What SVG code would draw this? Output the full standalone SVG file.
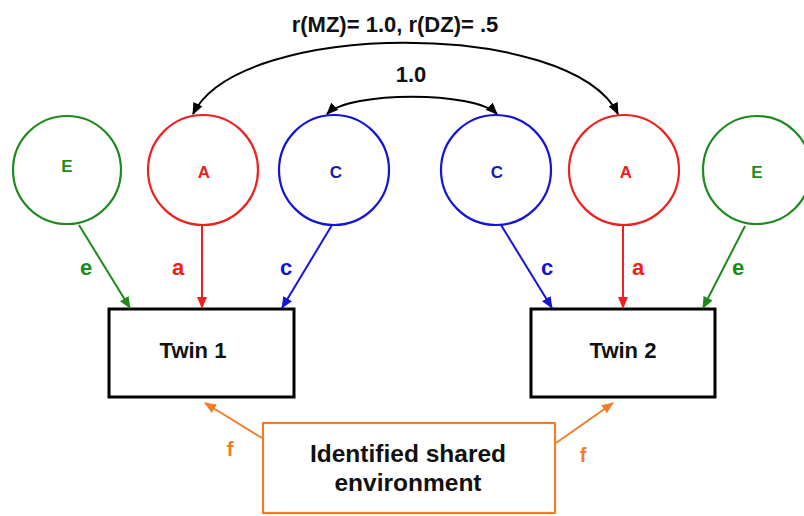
<svg xmlns="http://www.w3.org/2000/svg" width="804" height="516" viewBox="0 0 804 516">
  <style>
    text { font-family: "Liberation Sans", Arial, sans-serif; font-weight: bold; text-anchor: middle; }
    .circ { fill: #fff; stroke-width: 2.2; }
    .g { stroke: #1E8A1E; }
    .r { stroke: #F02020; }
    .b { stroke: #1414D8; }
    .tg { fill: #1E8A1E; }
    .tr { fill: #F02020; }
    .tb { fill: #1A1AA8; }
    .lb { fill: #1414D8; }
    .box { fill: #fff; stroke: #000; stroke-width: 3; }
    .obox { fill: #fff; stroke: #F07D2A; stroke-width: 2.2; }
    .path { fill: none; stroke-width: 2; }
    .big { font-size: 22px; fill: #111; }
    .lat { font-size: 17px; }
    .lab { font-size: 22px; }
    .lf { font-size: 20px; fill: #F07D2A; }
  </style>
  <defs>
    <marker id="ahK" viewBox="0 0 12 10" refX="11" refY="5" markerWidth="12" markerHeight="10" markerUnits="userSpaceOnUse" orient="auto-start-reverse">
      <path d="M0,0 L12,5 L0,10 z" fill="#000"/>
    </marker>
    <marker id="ahG" viewBox="0 0 12 10" refX="11" refY="5" markerWidth="12" markerHeight="10" markerUnits="userSpaceOnUse" orient="auto">
      <path d="M0,0 L12,5 L0,10 z" fill="#1E8A1E"/>
    </marker>
    <marker id="ahR" viewBox="0 0 12 10" refX="11" refY="5" markerWidth="12" markerHeight="10" markerUnits="userSpaceOnUse" orient="auto">
      <path d="M0,0 L12,5 L0,10 z" fill="#F02020"/>
    </marker>
    <marker id="ahB" viewBox="0 0 12 10" refX="11" refY="5" markerWidth="12" markerHeight="10" markerUnits="userSpaceOnUse" orient="auto">
      <path d="M0,0 L12,5 L0,10 z" fill="#1414D8"/>
    </marker>
    <marker id="ahO" viewBox="0 0 12 10" refX="11" refY="5" markerWidth="12" markerHeight="10" markerUnits="userSpaceOnUse" orient="auto">
      <path d="M0,0 L12,5 L0,10 z" fill="#F07D2A"/>
    </marker>
  </defs>

  <!-- latent factors, twin 1 -->
  <g id="E1"><circle class="circ g" cx="67" cy="170" r="54"/><text class="lat tg" x="67" y="172">E</text></g>
  <g id="A1"><circle class="circ r" cx="203" cy="170" r="55"/><text class="lat tr" x="204" y="178">A</text></g>
  <g id="C1"><circle class="circ b" cx="334" cy="170" r="55"/><text class="lat tb" x="336" y="178">C</text></g>
  <!-- latent factors, twin 2 -->
  <g id="C2"><circle class="circ b" cx="496" cy="170" r="55"/><text class="lat tb" x="497" y="178">C</text></g>
  <g id="A2"><circle class="circ r" cx="624" cy="170" r="55"/><text class="lat tr" x="626" y="178">A</text></g>
  <g id="E2"><circle class="circ g" cx="757" cy="170" r="54"/><text class="lat tg" x="757" y="178">E</text></g>

  <!-- observed twins -->
  <g id="twin1"><rect class="box" x="109" y="309" width="185" height="88"/><text class="big" x="193" y="358">Twin 1</text></g>
  <g id="twin2"><rect class="box" x="531" y="309" width="184" height="88"/><text class="big" x="623" y="358">Twin 2</text></g>

  <!-- measured shared environment -->
  <g id="env">
    <rect class="obox" x="263" y="423" width="292" height="90"/>
    <text style="font-size:24.5px;fill:#111" x="408" y="462">Identified shared</text>
    <text style="font-size:24.5px;fill:#111" x="408" y="491">environment</text>
  </g>

  <g id="connectors">
    <!-- correlations between twins -->
    <path class="path" stroke="#000" d="M193,114 C240,19 571,19 618,114" marker-start="url(#ahK)" marker-end="url(#ahK)"/>
    <path class="path" stroke="#000" d="M327,114 C350,91 474,91 497,114" marker-start="url(#ahK)" marker-end="url(#ahK)"/>
    <!-- paths to twin 1 -->
    <path class="path g" d="M79,225 L130,308" marker-end="url(#ahG)"/>
    <path class="path r" d="M202,225 L202,308" marker-end="url(#ahR)"/>
    <path class="path b" d="M332,225 L282,308" marker-end="url(#ahB)"/>
    <!-- paths to twin 2 -->
    <path class="path b" d="M501,225 L552,308" marker-end="url(#ahB)"/>
    <path class="path r" d="M623,225 L623,308" marker-end="url(#ahR)"/>
    <path class="path g" d="M745,226 L703,308" marker-end="url(#ahG)"/>
    <!-- environment paths -->
    <path class="path" stroke="#F07D2A" d="M262,438 L205,403" marker-end="url(#ahO)"/>
    <path class="path" stroke="#F07D2A" d="M556,443 L613,403" marker-end="url(#ahO)"/>
  </g>

  <!-- path labels -->
  <text class="lab tg" x="86" y="275">e</text>
  <text class="lab tr" x="178" y="275">a</text>
  <text class="lab lb" x="286" y="275">c</text>
  <text class="lab lb" x="547" y="275">c</text>
  <text class="lab tr" x="638" y="275">a</text>
  <text class="lab tg" x="738" y="275">e</text>
  <text class="lf" x="230" y="456">f</text>
  <text class="lf" x="583" y="462">f</text>

  <!-- correlation labels -->
  <text class="big" x="395" y="32">r(MZ)= 1.0, r(DZ)= .5</text>
  <text class="big" x="411" y="82">1.0</text>
</svg>
